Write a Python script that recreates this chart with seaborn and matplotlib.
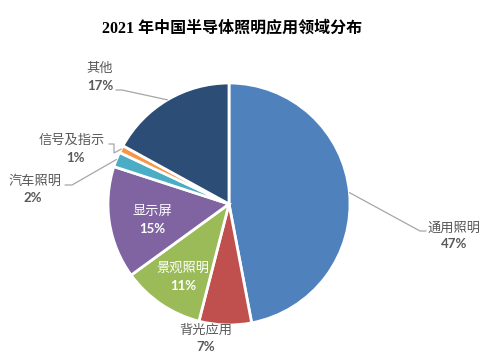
import matplotlib
matplotlib.use("Agg")
import matplotlib.pyplot as plt
import numpy as np
import seaborn as sns

# 2021 China semiconductor lighting application shares (%)
categories = ["通用照明", "背光应用", "景观照明", "显示屏", "汽车照明", "信号及指示", "其他"]
shares = [47, 7, 11, 15, 2, 1, 17]
colors = ["#4F81BD", "#C0504D", "#9BBB59", "#8064A2", "#4BACC6", "#F79646", "#2C4D75"]

sns.set_theme(style="white")
plt.rcParams['font.family'] = ['Lato', 'Noto Sans CJK SC', 'DejaVu Sans']

fig = plt.figure(figsize=(4.88, 3.52), dpi=100)
ax = fig.add_axes([0, 0, 1, 1])

wedges, _ = ax.pie(shares, colors=colors, startangle=90, counterclock=False,
                   wedgeprops=dict(edgecolor='white', linewidth=2))


# pixel -> data (pie centre at pixel 229,204, radius 121 px)
def px(x, y):
    return (x - 229) / 121, (204 - y) / 121


ax.set_xlim(px(0, 0)[0], px(488, 0)[0])
ax.set_ylim(px(0, 352)[1], px(0, 0)[1])
ax.set_axis_off()

grey = "#595959"
# label layout: name position, pct position, colour, leader start points
layout = {
    "通用照明": ((454, 228), (454, 244), grey, [(426, 231), (420, 231)]),
    "背光应用": ((206, 330), (206, 347), grey, None),
    "景观照明": ((183, 268), (183, 286), "white", None),
    "显示屏": ((152, 211), (152, 229), "white", None),
    "汽车照明": ((35, 181), (33, 198), grey, [(65, 185), (72, 185)]),
    "信号及指示": ((72, 140), (75, 158), grey, [(109, 144), (114, 144), (114, 153)]),
    "其他": ((100, 68), (100, 86), grey, [(116, 90), (122, 90)]),
}

for w, name, val in zip(wedges, categories, shares):
    (nx, ny), (qx, qy), col, leader = layout[name]
    ax.text(*px(nx, ny), name, ha='center', va='center', fontsize=9.5, color=col)
    ax.text(*px(qx, qy), f"{val}%", ha='center', va='center', fontsize=9.5,
            color=col, fontweight='bold')
    if leader:
        mid = np.deg2rad((w.theta1 + w.theta2) / 2)
        pts = [px(x, y) for x, y in leader] + [(np.cos(mid), np.sin(mid))]
        xs, ys = zip(*pts)
        ax.plot(xs, ys, color="#A6A6A6", lw=0.9)

fig.text(0.476, 0.92, "2021 年中国半导体照明应用领域分布", ha='center', va='center',
         fontsize=11.5, fontweight='bold', color='black',
         family=['Liberation Serif', 'Noto Sans CJK SC'])

fig.savefig("out.png", dpi=100)
